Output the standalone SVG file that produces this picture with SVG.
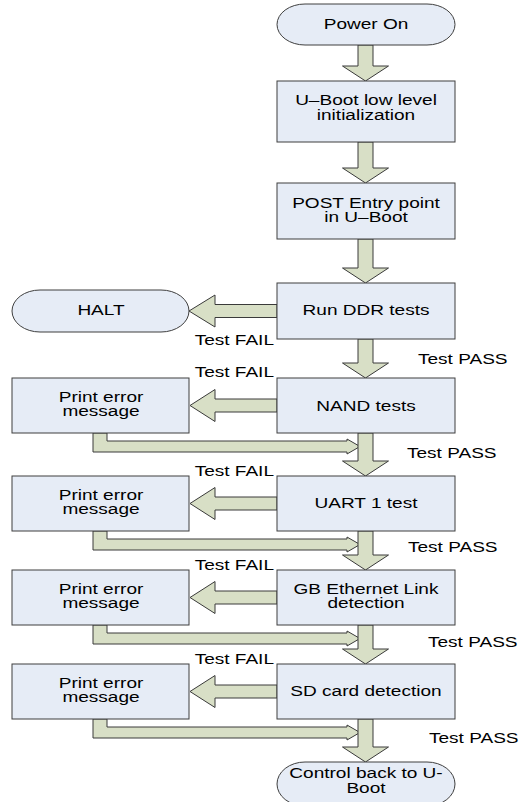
<svg xmlns="http://www.w3.org/2000/svg" width="524" height="802" viewBox="0 0 524 802">
<style>
.box{fill:#E6ECF6;stroke:#3f3f3f;stroke-width:1}
.arr{fill:#D8DFC6;stroke:#3a3a3a;stroke-width:1;stroke-linejoin:miter}
text{font-family:"Liberation Sans",Arial,sans-serif;font-size:14px;fill:#000}
.c{text-anchor:middle}
.e{text-anchor:end}
</style>
<rect width="524" height="802" fill="#ffffff"/>
<g id="connectors">
<!-- return arrows from print boxes -->
<polygon class="arr" points="93,433 107,433 107,441 347,441 347,439 360,446.5 347,454 347,452 93,452"/>
<polygon class="arr" points="93,531 107,531 107,539 347,539 347,537 360,544.5 347,552 347,550 93,550"/>
<polygon class="arr" points="93,625 107,625 107,633 347,633 347,631 360,638.5 347,646 347,644 93,644"/>
<polygon class="arr" points="93,719 107,719 107,727 347,727 347,725 360,732.5 347,740 347,738 93,738"/>
<!-- main downward arrows -->
<polygon class="arr" points="358,45 373,45 373,66 388.5,66 365.5,81 342.5,66 358,66"/>
<polygon class="arr" points="358,142 373,142 373,168 388.5,168 365.5,183 342.5,168 358,168"/>
<polygon class="arr" points="358,239 373,239 373,268 388.5,268 365.5,283 342.5,268 358,268"/>
<polygon class="arr" points="358,339 373,339 373,363 388.5,363 365.5,378 342.5,363 358,363"/>
<polygon class="arr" points="358,433 373,433 373,461 388.5,461 365.5,476 342.5,461 358,461"/>
<polygon class="arr" points="358,531 373,531 373,555 388.5,555 365.5,570 342.5,555 358,555"/>
<polygon class="arr" points="358,625 373,625 373,649 388.5,649 365.5,664 342.5,649 358,649"/>
<polygon class="arr" points="358,719 373,719 373,747 388.5,747 365.5,762 342.5,747 358,747"/>
<!-- fail arrows -->
<polygon class="arr" points="277,304.5 215,304.5 215,295 189,311 215,327 215,317.5 277,317.5"/>
<polygon class="arr" points="277,399 215,399 215,389.5 190,405.5 215,421.5 215,412 277,412"/>
<polygon class="arr" points="277,497 215,497 215,487.5 190,503.5 215,519.5 215,510 277,510"/>
<polygon class="arr" points="277,591 215,591 215,581.5 190,597.5 215,613.5 215,604 277,604"/>
<polygon class="arr" points="277,685 215,685 215,675.5 190,691.5 215,707.5 215,698 277,698"/>
<!-- labels -->
<text class="e" transform="matrix(1.36 0 0 1 274 0)" x="0" y="345">Test FAIL</text>
<text class="e" transform="matrix(1.36 0 0 1 274 0)" x="0" y="377">Test FAIL</text>
<text class="e" transform="matrix(1.36 0 0 1 274 0)" x="0" y="476">Test FAIL</text>
<text class="e" transform="matrix(1.36 0 0 1 274 0)" x="0" y="570">Test FAIL</text>
<text class="e" transform="matrix(1.36 0 0 1 274 0)" x="0" y="664">Test FAIL</text>
<text transform="matrix(1.36 0 0 1 418 0)" x="0" y="364">Test PASS</text>
<text transform="matrix(1.36 0 0 1 407 0)" x="0" y="458">Test PASS</text>
<text transform="matrix(1.36 0 0 1 408 0)" x="0" y="552">Test PASS</text>
<text transform="matrix(1.36 0 0 1 428 0)" x="0" y="647">Test PASS</text>
<text transform="matrix(1.36 0 0 1 429 0)" x="0" y="743">Test PASS</text>
</g>
<g id="power-on">
<rect class="box" x="277" y="4" width="178" height="41" rx="28" ry="20.5"/>
<text class="c" transform="matrix(1.36 0 0 1 366 0)" x="0" y="29.5">Power On</text>
</g>
<g id="uboot-init">
<rect class="box" x="277" y="81" width="178" height="61"/>
<text class="c" transform="matrix(1.36 0 0 1 366 0)" x="0" y="105">U–Boot low level</text>
<text class="c" transform="matrix(1.36 0 0 1 366 0)" x="0" y="120">initialization</text>
</g>
<g id="post-entry">
<rect class="box" x="277" y="183" width="178" height="56"/>
<text class="c" transform="matrix(1.36 0 0 1 366 0)" x="0" y="208">POST Entry point</text>
<text class="c" transform="matrix(1.36 0 0 1 366 0)" x="0" y="222">in U–Boot</text>
</g>
<g id="ddr">
<rect class="box" x="277" y="283" width="178" height="56"/>
<text class="c" transform="matrix(1.36 0 0 1 366 0)" x="0" y="315">Run DDR tests</text>
</g>
<g id="halt">
<rect class="box" x="12" y="290" width="177" height="42" rx="28" ry="21"/>
<text class="c" transform="matrix(1.36 0 0 1 101 0)" x="0" y="315">HALT</text>
</g>
<g id="nand">
<rect class="box" x="277" y="378" width="178" height="55"/>
<text class="c" transform="matrix(1.36 0 0 1 366 0)" x="0" y="411">NAND tests</text>
</g>
<g id="print1">
<rect class="box" x="12" y="378" width="177" height="55"/>
<text class="c" transform="matrix(1.36 0 0 1 101 0)" x="0" y="402">Print error</text>
<text class="c" transform="matrix(1.36 0 0 1 101 0)" x="0" y="416">message</text>
</g>
<g id="uart">
<rect class="box" x="277" y="476" width="178" height="55"/>
<text class="c" transform="matrix(1.36 0 0 1 366 0)" x="0" y="508">UART 1 test</text>
</g>
<g id="print2">
<rect class="box" x="12" y="476" width="177" height="55"/>
<text class="c" transform="matrix(1.36 0 0 1 101 0)" x="0" y="500">Print error</text>
<text class="c" transform="matrix(1.36 0 0 1 101 0)" x="0" y="514">message</text>
</g>
<g id="gbe">
<rect class="box" x="277" y="570" width="178" height="55"/>
<text class="c" transform="matrix(1.36 0 0 1 366 0)" x="0" y="594">GB Ethernet Link</text>
<text class="c" transform="matrix(1.36 0 0 1 366 0)" x="0" y="608">detection</text>
</g>
<g id="print3">
<rect class="box" x="12" y="570" width="177" height="55"/>
<text class="c" transform="matrix(1.36 0 0 1 101 0)" x="0" y="594">Print error</text>
<text class="c" transform="matrix(1.36 0 0 1 101 0)" x="0" y="608">message</text>
</g>
<g id="sd">
<rect class="box" x="277" y="664" width="178" height="55"/>
<text class="c" transform="matrix(1.36 0 0 1 366 0)" x="0" y="696">SD card detection</text>
</g>
<g id="print4">
<rect class="box" x="12" y="664" width="177" height="55"/>
<text class="c" transform="matrix(1.36 0 0 1 101 0)" x="0" y="688">Print error</text>
<text class="c" transform="matrix(1.36 0 0 1 101 0)" x="0" y="702">message</text>
</g>
<g id="control-back">
<rect class="box" x="277" y="762" width="178" height="44" rx="28" ry="22"/>
<text class="c" transform="matrix(1.36 0 0 1 366 0)" x="0" y="778">Control back to U-</text>
<text class="c" transform="matrix(1.36 0 0 1 366 0)" x="0" y="793">Boot</text>
</g>
</svg>
